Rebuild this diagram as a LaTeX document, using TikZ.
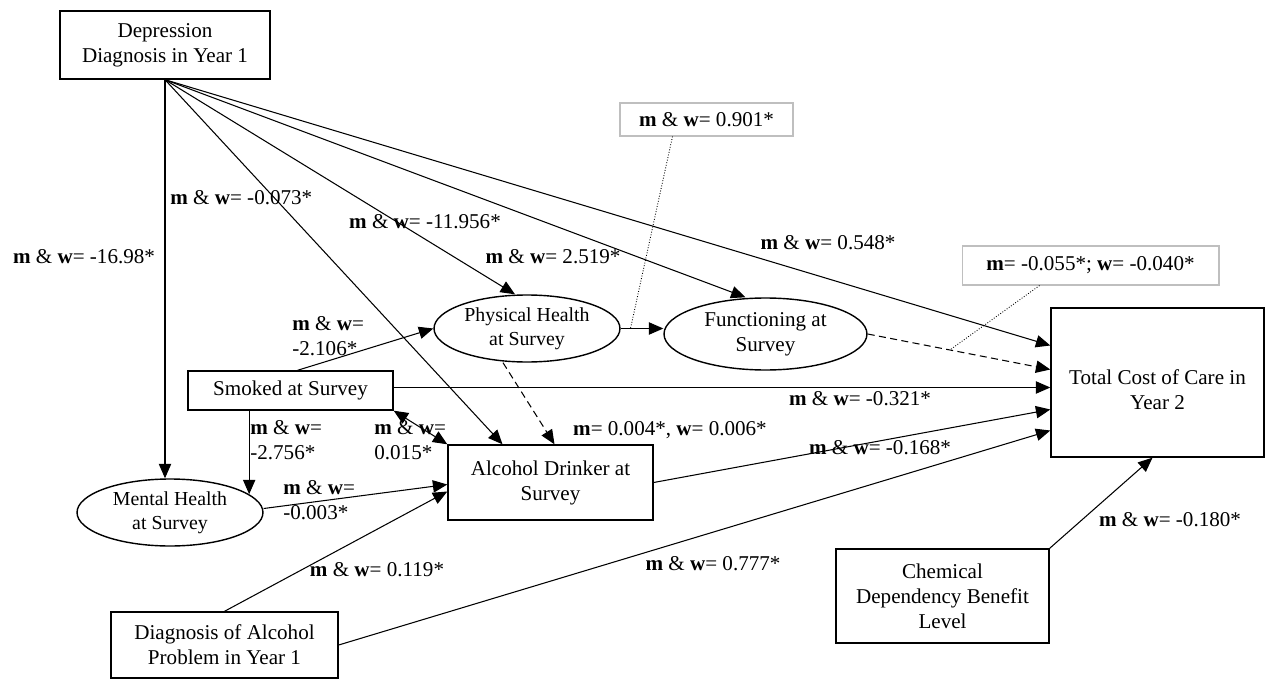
\documentclass[tikz,border=0pt]{standalone}
\usepackage{fontspec}
\setmainfont{Liberation Serif}
\usepackage{tikz}
\usetikzlibrary{calc,arrows.meta,shapes.geometric}

\tikzset{
  obsbox/.style={draw, line width=0.8pt, align=center, inner sep=0pt, font=\fontsize{12}{14.2}\selectfont},
  latent/.style={draw, ellipse, line width=0.8pt, align=center, inner sep=0pt},
  eff/.style={line width=0.6pt, -{Triangle[length=8.2pt,width=7pt]}},
  effdash/.style={eff, dash pattern=on 4pt off 2.5pt},
  coef/.style={inner sep=0pt, align=left, font=\fontsize{12}{14.2}\selectfont},
  notebox/.style={draw=black!25, line width=0.6pt, inner sep=0pt, font=\fontsize{12}{14.2}\selectfont},
  callout/.style={densely dotted, line width=0.5pt}
}
\newcommand{\mw}{\textbf{m} \& \textbf{w}=}

\begin{document}
\begin{tikzpicture}[x=0.02cm, y=-0.02cm]
        \useasboundingbox (0,0) rectangle (1265,679);

        % 观测变量
        \node[obsbox, minimum width=4.2cm, minimum height=1.36cm] (dep) at (165,45) {Depression\\Diagnosis in Year 1};
        \node[obsbox, minimum width=4.1cm, minimum height=0.78cm] (smoke) at (290.5,390.5) {Smoked at Survey};
        \node[obsbox, minimum width=4.54cm, minimum height=1.32cm] (diag) at (224.5,645) {Diagnosis of Alcohol\\Problem in Year 1};
        \node[obsbox, minimum width=4.1cm, minimum height=1.5cm] (alc) at (550.5,482.5) {Alcohol Drinker at\\Survey};
        \node[obsbox, minimum width=4.26cm, minimum height=2.98cm] (total) at (1157.5,382.5) {};
        \node[coef, align=center] (totaltxt) at ($(total.center)+(0,7)$) {Total Cost of Care in\\Year 2};
        \node[obsbox, minimum width=4.26cm, minimum height=1.88cm] (chem) at (942.5,596) {Chemical\\Dependency Benefit\\Level};

        % 潜变量
        \node[latent, minimum width=3.72cm, minimum height=1.34cm, font=\fontsize{11.3}{13.6}\selectfont] (phys) at (527,328.5) {Physical Health\\at Survey};
        \node[latent, minimum width=4.06cm, minimum height=1.44cm, font=\fontsize{12}{14.2}\selectfont] (func) at (765.5,334) {Functioning at\\Survey};
        \node[latent, minimum width=3.72cm, minimum height=1.34cm, font=\fontsize{11.3}{13.6}\selectfont] (mental) at (170,512.5) {Mental Health\\at Survey};

        % 注释框
        \node[notebox, minimum width=3.46cm, minimum height=0.66cm] (n901) at (706.5,119.5) {\mw{} 0.901*};
        \node[notebox, minimum width=5.14cm, minimum height=0.78cm] (n055) at (1090.5,265.5) {\textbf{m}= -0.055*; \textbf{w}= -0.040*};

        % 路径
        \draw[eff] (dep.south) -- (dep.south |- mental.north);
        \draw[eff] (dep.south) -- ($(alc.north)+(-48,0)$);
        \draw[eff] (dep.south) -- ($(phys.north)+(-12,0)$);
        \draw[eff] (dep.south) -- ($(func.north)+(-20,0)$);
        \draw[eff] (dep.south) -- ($(total.west)+(0,-37)$);
        \draw[eff] ($(smoke.north)+(7,0)$) -- (phys.west);
        \draw[eff] ($(smoke.east)+(0,-3)$) -- ($(total.west)+(0,5)$);
        \draw[eff] (mental.13.5 |- smoke.south) -- (mental.13.5);
        \draw[eff, {Triangle[length=8.2pt,width=7pt]}-{Triangle[length=8.2pt,width=7pt]}] (smoke.south east) -- (alc.north west);
        \draw[eff] ($(mental.east)+(0,-4)$) -- ($(alc.west)+(0,2)$);
        \draw[eff] (diag.north) -- ($(alc.west)+(0,9)$);
        \draw[eff] (diag.east) -- ($(total.west)+(0,48)$);
        \draw[eff] (alc.east) -- ($(total.west)+(0,27)$);
        \draw[eff] (phys.east) -- (phys.east -| func.west);
        \draw[effdash] ($(phys.south)+(-24,0)$) -- ($(alc.north)+(4,0)$);
        \coordinate (fend) at ($(total.west)+(0,-13)$);
        \draw[effdash] (func.east) -- (fend);
        \draw[eff] (chem.north east) -- ($(total.south)+(-5,0)$);

        % 注释连线
        \coordinate (hit1) at ($(phys.east)!0.23!(phys.east -| func.west)$);
        \coordinate (hit2) at ($(func.east)!0.45!(fend)$);
        \draw[callout] ($(n901.south)+(-34,0)$) -- (hit1);
        \draw[callout] ($(n055.south)+(-51,0)$) -- (hit2);

        % 系数
        \node[coef] (c1698) at (84,257) {\mw{} -16.98*};
        \node[coef, anchor=west] (c073) at (170,198) {\mw{} -0.073*};
        \node[coef] (c11956) at (425,222) {\mw{} -11.956*};
        \node[coef] (c2519) at (553,257) {\mw{} 2.519*};
        \node[coef] (c548) at (828,243) {\mw{} 0.548*};
        \node[coef, anchor=west] (c2106) at (292,336) {\mw\\-2.106*};
        \node[coef, anchor=west] (c2756) at (250,440) {\mw\\-2.756*};
        \node[coef, anchor=west] (c015) at (374,440) {\mw\\0.015*};
        \node[coef, anchor=west] (c003) at (283,500) {\mw\\-0.003*};
        \node[coef] (c119) at (377,570) {\mw{} 0.119*};
        \node[coef] (c004) at (670,430) {\textbf{m}= 0.004*, \textbf{w}= 0.006*};
        \node[coef] (c321) at (860,399) {\mw{} -0.321*};
        \node[coef] (c168) at (880,448) {\mw{} -0.168*};
        \node[coef] (c777) at (713,564) {\mw{} 0.777*};
        \node[coef] (c180) at (1170,520) {\mw{} -0.180*};
\end{tikzpicture}
\end{document}
